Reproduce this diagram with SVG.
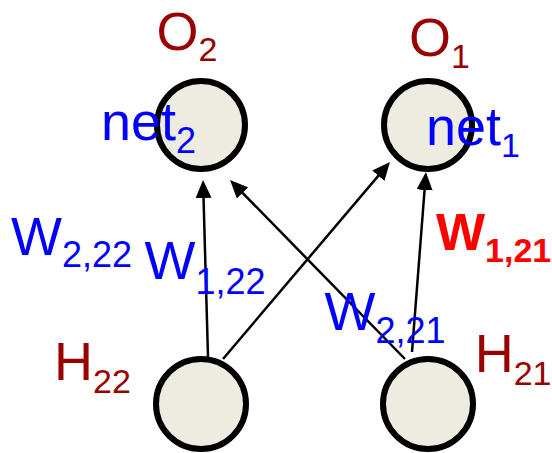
<svg xmlns="http://www.w3.org/2000/svg" width="552" height="453" viewBox="0 0 552 453">
  <style>
    .node { fill: #EEECE1; stroke: #000; stroke-width: 6; }
    .t { font-family: "Liberation Sans", Arial, sans-serif; font-size: 54px; }
    .dred { fill: #990000; }
    .blue { fill: #0000FF; }
    .red { fill: #FF0000; font-weight: bold; font-size: 52px; }
    .sub { font-size: 34px; }
    .sub36 { font-size: 36px; }
    .edge { stroke: #000; stroke-width: 2.5; fill: none; marker-end: url(#ah); }
  </style>
  <defs>
    <marker id="ah" viewBox="0 0 18 16" refX="12" refY="8" markerWidth="18" markerHeight="16" markerUnits="userSpaceOnUse" orient="auto">
      <path d="M0,0 L18,8 L0,16 z" fill="#000"/>
    </marker>
  </defs>
  <g id="connectors">
    <line class="edge" x1="208" y1="357" x2="203.2" y2="186"/>
    <line class="edge" x1="405" y1="359" x2="234.2" y2="184.3"/>
    <line class="edge" x1="223" y1="359" x2="386.1" y2="166.6"/>
    <line class="edge" x1="412" y1="352" x2="425.5" y2="178"/>
    <text class="t blue" x="11" y="255">W<tspan class="sub36" dy="12">2,22</tspan></text>
    <text class="t blue" x="144.5" y="279">W<tspan class="sub36" dy="15">1,22</tspan></text>
    <text class="t blue" x="324.5" y="330">W<tspan class="sub36" dy="13">2,21</tspan></text>
    <text class="t red" x="436" y="250">W<tspan class="sub" dy="12">1,21</tspan></text>
  </g>
  <g id="O2">
    <circle class="node" cx="201" cy="125" r="44"/>
    <text class="t dred" x="156.5" y="49.5">O<tspan class="sub" dy="11.5">2</tspan></text>
    <text class="t blue" x="101" y="140">net<tspan class="sub36" dy="13">2</tspan></text>
  </g>
  <g id="O1">
    <circle class="node" cx="428" cy="125" r="44"/>
    <text class="t dred" x="409" y="56">O<tspan class="sub" dy="12">1</tspan></text>
    <text class="t blue" x="426" y="145">net<tspan class="sub" dy="12">1</tspan></text>
  </g>
  <g id="H22">
    <circle class="node" cx="201" cy="404" r="45"/>
    <text class="t dred" x="54" y="380">H<tspan class="sub" dy="12.7">22</tspan></text>
  </g>
  <g id="H21">
    <circle class="node" cx="428" cy="404" r="45"/>
    <text class="t dred" x="474.7" y="372">H<tspan class="sub" dy="13">21</tspan></text>
  </g>
</svg>
